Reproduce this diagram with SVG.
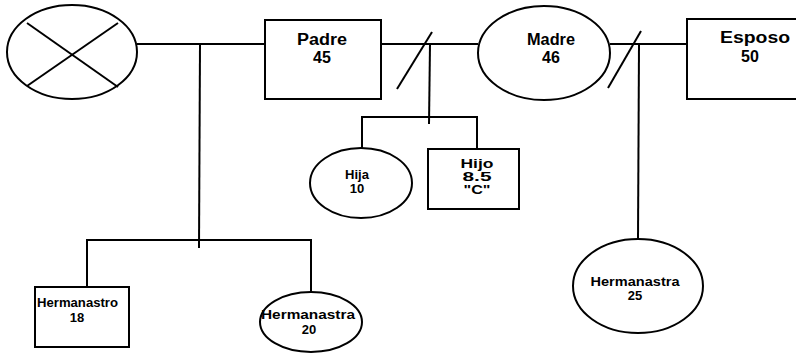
<svg xmlns="http://www.w3.org/2000/svg" width="796" height="353" viewBox="0 0 796 353">
<style>
.shape{fill:none;stroke:#000;stroke-width:2}
.ln{fill:none;stroke:#000;stroke-width:2}
.t{font-family:"Liberation Sans",Arial,sans-serif;font-weight:bold;fill:#000;text-anchor:middle}
.big{font-size:16px}
.sm{font-size:13px}
.xs{font-size:12px}
</style>
<rect width="796" height="353" fill="#fff"/>
<g id="connectors">
<line class="ln" x1="137" y1="44" x2="265" y2="44"/>
<line class="ln" x1="200" y1="44" x2="199" y2="248"/>
<polyline class="ln" points="87,287 87,240 311,240 311,292"/>
<line class="ln" x1="381" y1="44" x2="478" y2="44"/>
<line class="ln" x1="397" y1="89" x2="432" y2="32"/>
<line class="ln" x1="430" y1="44" x2="429" y2="124"/>
<polyline class="ln" points="362,148 362,117 477,117 477,149"/>
<line class="ln" x1="610" y1="44" x2="687" y2="44"/>
<line class="ln" x1="608" y1="88" x2="641" y2="31"/>
<line class="ln" x1="639" y1="44" x2="638" y2="239"/>
</g>
<g id="deceased">
<ellipse class="shape" cx="72" cy="52" rx="65" ry="47"/>
<line class="ln" x1="27" y1="23" x2="118" y2="87"/>
<line class="ln" x1="118" y1="23" x2="27" y2="86"/>
</g>
<g id="padre">
<rect class="shape" x="265" y="20" width="116" height="79"/>
<text class="t big" x="322" y="45" textLength="50" lengthAdjust="spacingAndGlyphs">Padre</text>
<text class="t big" x="322" y="63">45</text>
</g>
<g id="madre">
<ellipse class="shape" cx="544" cy="53" rx="66" ry="47"/>
<text class="t big" x="551" y="45" textLength="48" lengthAdjust="spacingAndGlyphs">Madre</text>
<text class="t big" x="551" y="63">46</text>
</g>
<g id="esposo">
<rect class="shape" x="687" y="19" width="120" height="80"/>
<text class="t big" x="755" y="43" textLength="70" lengthAdjust="spacingAndGlyphs">Esposo</text>
<text class="t big" x="750" y="62">50</text>
</g>
<g id="hija">
<ellipse class="shape" cx="361" cy="183" rx="51" ry="35"/>
<text class="t sm" x="357" y="179">Hija</text>
<text class="t sm" x="357" y="193">10</text>
</g>
<g id="hijo">
<rect class="shape" x="428" y="149" width="91" height="60"/>
<text class="t xs" x="477" y="168" textLength="33" lengthAdjust="spacingAndGlyphs">Hijo</text>
<text class="t xs" x="477" y="181" textLength="29" lengthAdjust="spacingAndGlyphs">8.5</text>
<text class="t xs" x="477" y="194" textLength="27" lengthAdjust="spacingAndGlyphs">"C"</text>
</g>
<g id="hermanastro18">
<rect class="shape" x="35" y="287" width="94" height="60"/>
<text class="t sm" x="77.5" y="307" textLength="81" lengthAdjust="spacingAndGlyphs">Hermanastro</text>
<text class="t sm" x="77" y="322">18</text>
</g>
<g id="hermanastra20">
<ellipse class="shape" cx="311" cy="322" rx="51" ry="30"/>
<text class="t sm" x="308" y="319" textLength="94" lengthAdjust="spacingAndGlyphs">Hermanastra</text>
<text class="t sm" x="309" y="334">20</text>
</g>
<g id="hermanastra25">
<ellipse class="shape" cx="638" cy="286" rx="65" ry="47"/>
<text class="t sm" x="635" y="286" textLength="89" lengthAdjust="spacingAndGlyphs">Hermanastra</text>
<text class="t sm" x="635" y="300">25</text>
</g>
</svg>
